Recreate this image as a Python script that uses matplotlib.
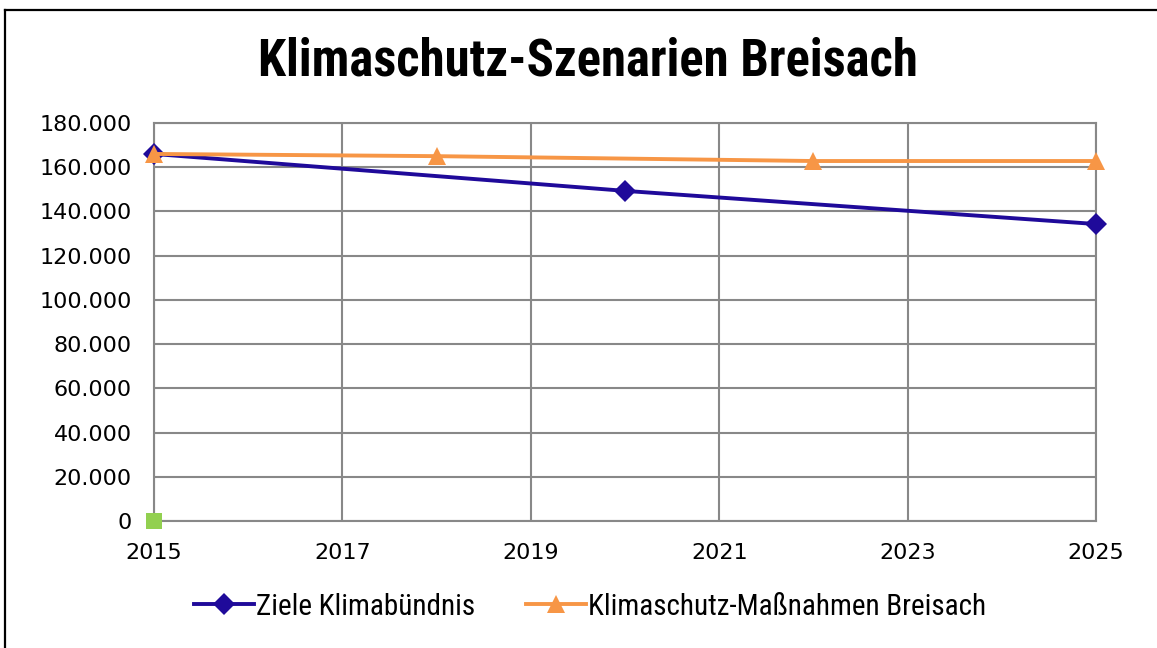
import matplotlib
matplotlib.use("Agg")
import matplotlib.pyplot as plt
from matplotlib.ticker import FuncFormatter, MultipleLocator
from matplotlib.lines import Line2D
from matplotlib import font_manager

# Series data (t CO2 per year)
years_ziele = [2015, 2020, 2025]
ziele_klimabuendnis = [166000, 149300, 134300]

years_massnahmen = [2015, 2018, 2022, 2025]
massnahmen_breisach = [166000, 165000, 162800, 162800]

years_extra = [2015]
extra_series = [0]

title = "Klimaschutz-Szenarien Breisach"
label_ziele = "Ziele Klimabündnis"
label_massnahmen = "Klimaschutz-Maßnahmen Breisach"

x_ticks = [2015, 2017, 2019, 2021, 2023, 2025]

names = {f.name for f in font_manager.fontManager.ttflist}
narrow = [n for n in ["Roboto Condensed", "Liberation Sans Narrow",
                      "DejaVu Sans Condensed", "Open Sans Condensed"] if n in names]

fig = plt.figure(figsize=(11.57, 6.48), dpi=100)
ax = fig.add_axes([0.1331, 0.196, 0.8142, 0.6142])

grid_c = "#888888"
blue = "#1f0a9a"
orange = "#f79646"
green = "#92d050"

ax.plot(years_ziele, ziele_klimabuendnis, color=blue, lw=2.8, marker="D",
        ms=11.5, markeredgewidth=0, clip_on=False, zorder=4, label=label_ziele)
ax.plot(years_massnahmen, massnahmen_breisach, color=orange, lw=2.8, marker="^",
        ms=13, markeredgewidth=0, clip_on=False, zorder=5, label=label_massnahmen)
ax.plot(years_extra, extra_series, color=green, lw=0, marker="s",
        ms=11.5, markeredgewidth=0, clip_on=False, zorder=6)

ax.set_xlim(2015, 2025)
ax.set_ylim(0, 180000)
ax.set_xticks(x_ticks)
ax.yaxis.set_major_locator(MultipleLocator(20000))
ax.yaxis.set_major_formatter(FuncFormatter(lambda v, p: f"{int(v):,}".replace(",", ".")))

ax.grid(True, color=grid_c, lw=1.5)
ax.set_axisbelow(True)
for s in ax.spines.values():
    s.set_color(grid_c)
    s.set_linewidth(1.5)
ax.tick_params(length=0, labelsize=16)
ax.tick_params(axis="x", pad=16)
ax.tick_params(axis="y", pad=16)

if narrow:
    title_kw = dict(family=[narrow[0], "DejaVu Sans"], fontsize=36.5)
    leg_prop = {"family": [narrow[0], "DejaVu Sans"], "size": 21}
else:
    title_kw = dict(family=["DejaVu Sans"], fontsize=27, stretch="condensed")
    leg_prop = {"family": ["DejaVu Sans"], "size": 16.5}

fig.text(0.508, 0.905, title, ha="center", va="center",
         fontweight="bold", **title_kw)

handles = [
    Line2D([], [], color=blue, lw=2.8, marker="D", ms=11.5, markeredgewidth=0),
    Line2D([], [], color=orange, lw=2.8, marker="^", ms=13, markeredgewidth=0),
]
fig.legend(handles, [label_ziele, label_massnahmen], loc="center",
           bbox_to_anchor=(0.510, 0.064), ncol=2, frameon=False,
           prop=leg_prop, handlelength=2.05,
           handletextpad=0.08, columnspacing=1.75, numpoints=1)

# frame lines along the top and left edges
fig.add_artist(Line2D([0.004, 1.0], [0.984, 0.984], transform=fig.transFigure,
                      color="black", lw=1.6))
fig.add_artist(Line2D([0.004, 0.004], [0.0, 0.984], transform=fig.transFigure,
                      color="black", lw=1.6))

fig.savefig("out.png", dpi=100, facecolor="white")
